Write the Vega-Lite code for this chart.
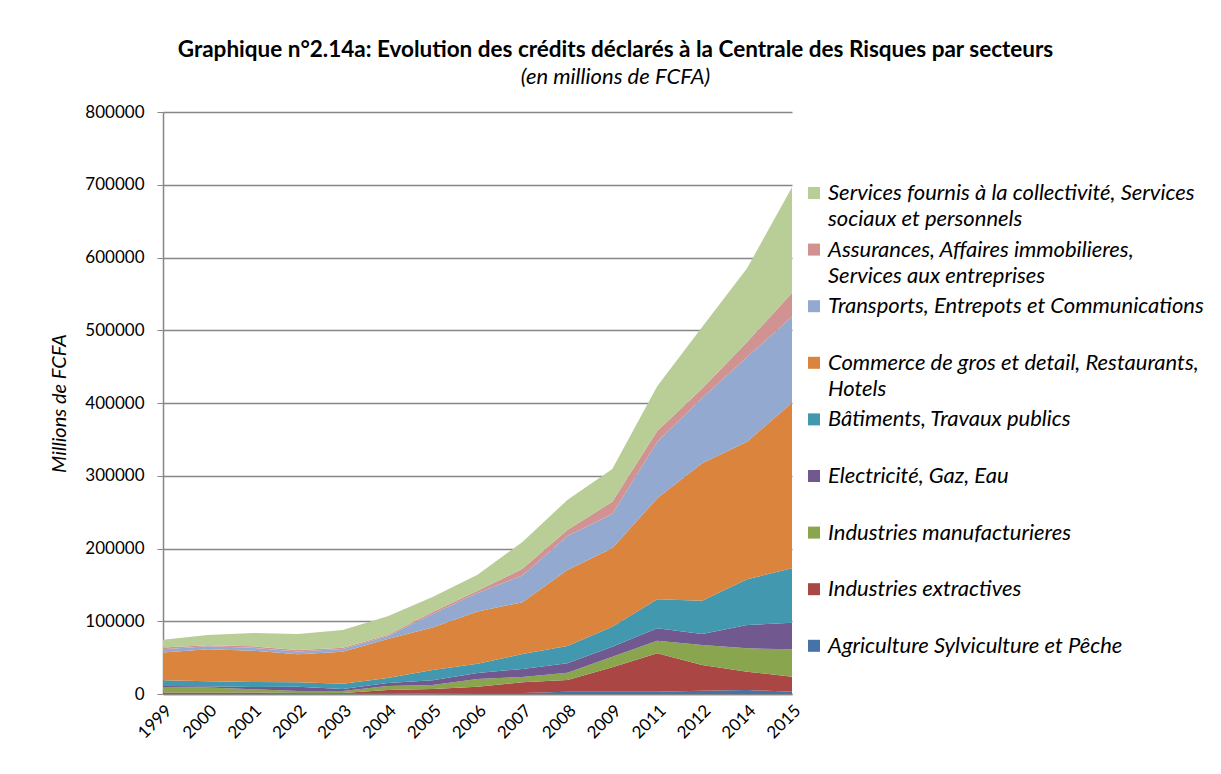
{
  "$schema": "https://vega.github.io/schema/vega-lite/v6.json",
  "width": 629,
  "height": 582,
  "autosize": {"type": "none"},
  "padding": {"left": 163, "top": 112, "right": 429, "bottom": 80},
  "background": "white",
  "config": {"view": {"stroke": null}},
  "title": {
    "text": "Graphique n°2.14a: Evolution des crédits déclarés à la Centrale des Risques par secteurs",
    "subtitle": "(en millions de FCFA)",
    "anchor": "middle",
    "frame": "group",
    "dx": 138,
    "font": "Lato",
    "fontSize": 22.5,
    "fontWeight": "bold",
    "color": "black",
    "subtitleFont": "Lato",
    "subtitleFontSize": 22,
    "subtitleFontStyle": "italic",
    "subtitleColor": "black",
    "subtitlePadding": 6,
    "offset": 15
  },
  "datasets": {
    "secteurs": [
      {"code": 1, "secteur": "Agriculture Sylviculture et Pêche"},
      {"code": 2, "secteur": "Industries extractives"},
      {"code": 3, "secteur": "Industries manufacturieres"},
      {"code": 4, "secteur": "Electricité, Gaz, Eau"},
      {"code": 5, "secteur": "Bâtiments, Travaux publics"},
      {"code": 6, "secteur": "Commerce de gros et detail, Restaurants, Hotels"},
      {"code": 7, "secteur": "Transports, Entrepots et Communications"},
      {"code": 8, "secteur": "Assurances, Affaires immobilieres, Services aux entreprises"},
      {"code": 9, "secteur": "Services fournis à la collectivité, Services sociaux et personnels"}
    ],
    "credits": [
      {"annee": "1999", "code": 1, "credits": 1500}, {"annee": "1999", "code": 2, "credits": 500}, {"annee": "1999", "code": 3, "credits": 7500}, {"annee": "1999", "code": 4, "credits": 1500}, {"annee": "1999", "code": 5, "credits": 8000}, {"annee": "1999", "code": 6, "credits": 38000}, {"annee": "1999", "code": 7, "credits": 4500}, {"annee": "1999", "code": 8, "credits": 2500}, {"annee": "1999", "code": 9, "credits": 10500},
      {"annee": "2000", "code": 1, "credits": 1500}, {"annee": "2000", "code": 2, "credits": 500}, {"annee": "2000", "code": 3, "credits": 7000}, {"annee": "2000", "code": 4, "credits": 1500}, {"annee": "2000", "code": 5, "credits": 7000}, {"annee": "2000", "code": 6, "credits": 44000}, {"annee": "2000", "code": 7, "credits": 4000}, {"annee": "2000", "code": 8, "credits": 1500}, {"annee": "2000", "code": 9, "credits": 14000},
      {"annee": "2001", "code": 1, "credits": 1500}, {"annee": "2001", "code": 2, "credits": 500}, {"annee": "2001", "code": 3, "credits": 4500}, {"annee": "2001", "code": 4, "credits": 3000}, {"annee": "2001", "code": 5, "credits": 7000}, {"annee": "2001", "code": 6, "credits": 43000}, {"annee": "2001", "code": 7, "credits": 4000}, {"annee": "2001", "code": 8, "credits": 2000}, {"annee": "2001", "code": 9, "credits": 18500},
      {"annee": "2002", "code": 1, "credits": 1000}, {"annee": "2002", "code": 2, "credits": 500}, {"annee": "2002", "code": 3, "credits": 2500}, {"annee": "2002", "code": 4, "credits": 6000}, {"annee": "2002", "code": 5, "credits": 6000}, {"annee": "2002", "code": 6, "credits": 38500}, {"annee": "2002", "code": 7, "credits": 4000}, {"annee": "2002", "code": 8, "credits": 2000}, {"annee": "2002", "code": 9, "credits": 22000},
      {"annee": "2003", "code": 1, "credits": 500}, {"annee": "2003", "code": 2, "credits": 1000}, {"annee": "2003", "code": 3, "credits": 2500}, {"annee": "2003", "code": 4, "credits": 3000}, {"annee": "2003", "code": 5, "credits": 7000}, {"annee": "2003", "code": 6, "credits": 44000}, {"annee": "2003", "code": 7, "credits": 4000}, {"annee": "2003", "code": 8, "credits": 1500}, {"annee": "2003", "code": 9, "credits": 24500},
      {"annee": "2004", "code": 1, "credits": 500}, {"annee": "2004", "code": 2, "credits": 5000}, {"annee": "2004", "code": 3, "credits": 5500}, {"annee": "2004", "code": 4, "credits": 4000}, {"annee": "2004", "code": 5, "credits": 7000}, {"annee": "2004", "code": 6, "credits": 53500}, {"annee": "2004", "code": 7, "credits": 4000}, {"annee": "2004", "code": 8, "credits": 1500}, {"annee": "2004", "code": 9, "credits": 26000},
      {"annee": "2005", "code": 1, "credits": 1000}, {"annee": "2005", "code": 2, "credits": 6000}, {"annee": "2005", "code": 3, "credits": 5500}, {"annee": "2005", "code": 4, "credits": 6500}, {"annee": "2005", "code": 5, "credits": 14000}, {"annee": "2005", "code": 6, "credits": 58500}, {"annee": "2005", "code": 7, "credits": 18500}, {"annee": "2005", "code": 8, "credits": 2700}, {"annee": "2005", "code": 9, "credits": 20600},
      {"annee": "2006", "code": 1, "credits": 1500}, {"annee": "2006", "code": 2, "credits": 8500}, {"annee": "2006", "code": 3, "credits": 10500}, {"annee": "2006", "code": 4, "credits": 8500}, {"annee": "2006", "code": 5, "credits": 12500}, {"annee": "2006", "code": 6, "credits": 72000}, {"annee": "2006", "code": 7, "credits": 25500}, {"annee": "2006", "code": 8, "credits": 3000}, {"annee": "2006", "code": 9, "credits": 22000},
      {"annee": "2007", "code": 1, "credits": 1500}, {"annee": "2007", "code": 2, "credits": 14500}, {"annee": "2007", "code": 3, "credits": 7500}, {"annee": "2007", "code": 4, "credits": 11000}, {"annee": "2007", "code": 5, "credits": 20500}, {"annee": "2007", "code": 6, "credits": 71000}, {"annee": "2007", "code": 7, "credits": 37000}, {"annee": "2007", "code": 8, "credits": 9000}, {"annee": "2007", "code": 9, "credits": 37000},
      {"annee": "2008", "code": 1, "credits": 3000}, {"annee": "2008", "code": 2, "credits": 16200}, {"annee": "2008", "code": 3, "credits": 10100}, {"annee": "2008", "code": 4, "credits": 12900}, {"annee": "2008", "code": 5, "credits": 23800}, {"annee": "2008", "code": 6, "credits": 104500}, {"annee": "2008", "code": 7, "credits": 46700}, {"annee": "2008", "code": 8, "credits": 8200}, {"annee": "2008", "code": 9, "credits": 41300},
      {"annee": "2009", "code": 1, "credits": 3000}, {"annee": "2009", "code": 2, "credits": 33700}, {"annee": "2009", "code": 3, "credits": 14600}, {"annee": "2009", "code": 4, "credits": 13700}, {"annee": "2009", "code": 5, "credits": 27500}, {"annee": "2009", "code": 6, "credits": 107800}, {"annee": "2009", "code": 7, "credits": 47100}, {"annee": "2009", "code": 8, "credits": 16900}, {"annee": "2009", "code": 9, "credits": 45000},
      {"annee": "2011", "code": 1, "credits": 3000}, {"annee": "2011", "code": 2, "credits": 52900}, {"annee": "2011", "code": 3, "credits": 17400}, {"annee": "2011", "code": 4, "credits": 17000}, {"annee": "2011", "code": 5, "credits": 39900}, {"annee": "2011", "code": 6, "credits": 138800}, {"annee": "2011", "code": 7, "credits": 77800}, {"annee": "2011", "code": 8, "credits": 14700}, {"annee": "2011", "code": 9, "credits": 61500},
      {"annee": "2012", "code": 1, "credits": 4500}, {"annee": "2012", "code": 2, "credits": 35400}, {"annee": "2012", "code": 3, "credits": 27500}, {"annee": "2012", "code": 4, "credits": 15100}, {"annee": "2012", "code": 5, "credits": 45700}, {"annee": "2012", "code": 6, "credits": 188900}, {"annee": "2012", "code": 7, "credits": 89800}, {"annee": "2012", "code": 8, "credits": 13100}, {"annee": "2012", "code": 9, "credits": 84500},
      {"annee": "2014", "code": 1, "credits": 5500}, {"annee": "2014", "code": 2, "credits": 25200}, {"annee": "2014", "code": 3, "credits": 32100}, {"annee": "2014", "code": 4, "credits": 32000}, {"annee": "2014", "code": 5, "credits": 62900}, {"annee": "2014", "code": 6, "credits": 189100}, {"annee": "2014", "code": 7, "credits": 116400}, {"annee": "2014", "code": 8, "credits": 20600}, {"annee": "2014", "code": 9, "credits": 101400},
      {"annee": "2015", "code": 1, "credits": 3200}, {"annee": "2015", "code": 2, "credits": 20600}, {"annee": "2015", "code": 3, "credits": 37600}, {"annee": "2015", "code": 4, "credits": 36600}, {"annee": "2015", "code": 5, "credits": 74800}, {"annee": "2015", "code": 6, "credits": 227600}, {"annee": "2015", "code": 7, "credits": 118200}, {"annee": "2015", "code": 8, "credits": 33000}, {"annee": "2015", "code": 9, "credits": 144900}
    ]
  },
  "data": {"name": "credits"},
  "transform": [
    {"lookup": "code", "from": {"data": {"name": "secteurs"}, "key": "code", "fields": ["secteur"]}}
  ],
  "mark": {"type": "area", "opacity": 1},
  "encoding": {
    "x": {
      "field": "annee",
      "type": "ordinal",
      "scale": {"type": "point", "padding": 0},
      "axis": {
        "title": null,
        "labelAngle": -45,
        "labelFont": "Lato",
        "labelFontSize": 17,
        "labelColor": "black",
        "domainColor": "#868686",
        "domainWidth": 1.5,
        "ticks": false,
        "labelPadding": 8
      }
    },
    "y": {
      "field": "credits",
      "type": "quantitative",
      "stack": "zero",
      "scale": {"domain": [0, 800000], "nice": false},
      "axis": {
        "title": "Millions de FCFA",
        "titleFont": "Lato",
        "titleFontSize": 20,
        "titleFontStyle": "italic",
        "titleFontWeight": "normal",
        "titleColor": "black",
        "titlePadding": 15,
        "values": [0, 100000, 200000, 300000, 400000, 500000, 600000, 700000, 800000],
        "format": "d",
        "labelFont": "Lato",
        "labelFontSize": 17,
        "labelColor": "black",
        "labelPadding": 13,
        "tickSize": 6,
        "tickColor": "#868686",
        "domainColor": "#868686",
        "domainWidth": 1.5,
        "grid": true,
        "gridColor": "#868686",
        "gridWidth": 1.5
      }
    },
    "color": {
      "field": "secteur",
      "type": "nominal",
      "scale": {
        "domain": [
          "Services fournis à la collectivité, Services sociaux et personnels",
          "Assurances, Affaires immobilieres, Services aux entreprises",
          "Transports, Entrepots et Communications",
          "Commerce de gros et detail, Restaurants, Hotels",
          "Bâtiments, Travaux publics",
          "Electricité, Gaz, Eau",
          "Industries manufacturieres",
          "Industries extractives",
          "Agriculture Sylviculture et Pêche"
        ],
        "range": ["#B9CD96", "#D19392", "#93A9CF", "#DB843D", "#4198AF", "#71588F", "#89A54E", "#AA4643", "#4572A7"]
      },
      "legend": {
        "title": null,
        "orient": "none",
        "legendX": 640,
        "legendY": 70,
        "symbolType": "square",
        "symbolSize": 144,
        "symbolStrokeWidth": 0,
        "symbolOpacity": 1,
        "labelFont": "Lato",
        "labelFontSize": 22,
        "labelFontStyle": "italic",
        "labelColor": "black",
        "labelLimit": 500,
        "labelOffset": 3,
        "gridAlign": "all",
        "rowPadding": 8.6,
        "encode": {"labels": {"update": {"lineHeight": {"value": 26}}}},
        "labelExpr": "datum.label == 'Services fournis à la collectivité, Services sociaux et personnels' ? ['Services fournis à la collectivité, Services', 'sociaux et personnels'] : datum.label == 'Assurances, Affaires immobilieres, Services aux entreprises' ? ['Assurances, Affaires immobilieres,', 'Services aux entreprises'] : datum.label == 'Commerce de gros et detail, Restaurants, Hotels' ? ['Commerce de gros et detail, Restaurants,', 'Hotels'] : datum.label"
      }
    },
    "order": {"field": "code", "type": "quantitative", "sort": "ascending"}
  }
}
